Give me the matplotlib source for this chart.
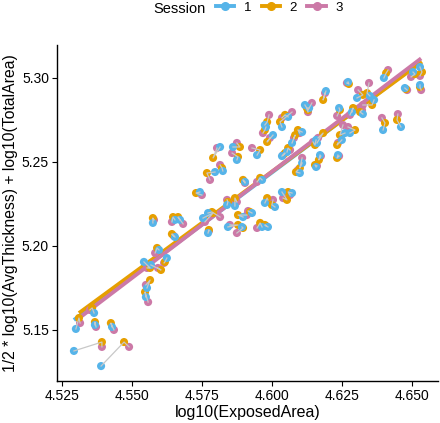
from __future__ import annotations

import matplotlib

matplotlib.use("Agg")
import matplotlib.pyplot as plt
import numpy as np
from matplotlib.lines import Line2D

SESSIONS = ["1", "2", "3"]
COLORS = ["#56B4E9", "#E69F00", "#CC79A7"]

# one entry per subject, same order in every session
S1_X = [4.6527, 4.6502, 4.6398, 4.6473, 4.6527, 4.6270, 4.6348, 4.6191, 4.6302, 4.6363,
        4.6284, 4.6238, 4.6323, 4.6395, 4.6459, 4.6116, 4.6131, 4.6159, 4.6156, 4.6259,
        4.6277, 4.6248, 4.6170, 4.6156, 4.6234, 4.6106, 4.6098, 4.6070, 4.6052, 4.6034,
        4.6106, 4.5973, 4.5977, 4.6002, 4.6056, 4.6034, 4.5945, 4.5859, 4.5873, 4.5813,
        4.5823, 4.5795, 4.5741, 4.5902, 4.5963, 4.5838, 4.5866, 4.5973, 4.6009, 4.6034,
        4.6070, 4.5895, 4.5927, 4.5841, 4.5891, 4.5963, 4.5984, 4.5770, 4.5752, 4.5770,
        4.5573, 4.5652, 4.5670, 4.5652, 4.5595, 4.5623, 4.5541, 4.5566, 4.5552, 4.5548,
        4.5363, 4.5298, 4.5366, 4.5427, 4.5291, 4.5388]
S1_Y = [5.3065, 5.3035, 5.3000, 5.2940, 5.2958, 5.2976, 5.2893, 5.2922, 5.2881, 5.2869,
        5.2797, 5.2821, 5.2785, 5.2690, 5.2708, 5.2839, 5.2821, 5.2613, 5.2631, 5.2672,
        5.2672, 5.2631, 5.2541, 5.2470, 5.2541, 5.2494, 5.2434, 5.2613, 5.2559, 5.2535,
        5.2678, 5.2720, 5.2708, 5.2660, 5.2768, 5.2708, 5.2541, 5.2589, 5.2512, 5.2589,
        5.2446, 5.2440, 5.2321, 5.2381, 5.2393, 5.2244, 5.2238, 5.2256, 5.2232, 5.2321,
        5.2315, 5.2172, 5.2196, 5.2113, 5.2113, 5.2113, 5.2113, 5.2196, 5.2166, 5.2077,
        5.2137, 5.2155, 5.2155, 5.2053, 5.1976, 5.1928, 5.1905, 5.1887, 5.1750, 5.1696,
        5.1601, 5.1506, 5.1530, 5.1518, 5.1375, 5.1285]

S2_X = [4.6534, 4.6509, 4.6406, 4.6477, 4.6527, 4.6273, 4.6338, 4.6181, 4.6323, 4.6356,
        4.6288, 4.6241, 4.6313, 4.6402, 4.6445, 4.6127, 4.6123, 4.6181, 4.6152, 4.6241,
        4.6295, 4.6231, 4.6166, 4.6152, 4.6231, 4.6098, 4.6084, 4.6081, 4.6056, 4.6045,
        4.6091, 4.5981, 4.5973, 4.5981, 4.6045, 4.6027, 4.5956, 4.5884, 4.5877, 4.5788,
        4.5820, 4.5766, 4.5727, 4.5895, 4.5956, 4.5841, 4.5866, 4.5981, 4.5998, 4.6052,
        4.6056, 4.5877, 4.5920, 4.5877, 4.5895, 4.5956, 4.5973, 4.5784, 4.5788, 4.5773,
        4.5573, 4.5645, 4.5663, 4.5641, 4.5588, 4.5616, 4.5563, 4.5602, 4.5563, 4.5545,
        4.5356, 4.5309, 4.5366, 4.5423, 4.5391, 4.5470]
S2_Y = [5.3035, 5.3023, 5.3029, 5.2934, 5.2946, 5.2964, 5.2910, 5.2869, 5.2899, 5.2839,
        5.2821, 5.2809, 5.2797, 5.2732, 5.2750, 5.2809, 5.2821, 5.2672, 5.2601, 5.2660,
        5.2690, 5.2601, 5.2512, 5.2482, 5.2524, 5.2464, 5.2440, 5.2660, 5.2583, 5.2553,
        5.2690, 5.2738, 5.2690, 5.2619, 5.2780, 5.2738, 5.2571, 5.2589, 5.2530, 5.2524,
        5.2464, 5.2434, 5.2315, 5.2393, 5.2405, 5.2262, 5.2285, 5.2285, 5.2244, 5.2274,
        5.2321, 5.2184, 5.2202, 5.2125, 5.2107, 5.2137, 5.2125, 5.2202, 5.2196, 5.2095,
        5.2166, 5.2172, 5.2172, 5.2071, 5.1988, 5.1905, 5.1869, 5.1857, 5.1797, 5.1726,
        5.1631, 5.1571, 5.1547, 5.1541, 5.1428, 5.1428]

S3_X = [4.6527, 4.6495, 4.6413, 4.6481, 4.6531, 4.6266, 4.6345, 4.6188, 4.6306, 4.6323,
        4.6277, 4.6231, 4.6320, 4.6391, 4.6448, 4.6141, 4.6127, 4.6163, 4.6145, 4.6252,
        4.6270, 4.6234, 4.6173, 4.6159, 4.6238, 4.6106, 4.6091, 4.6077, 4.6063, 4.6038,
        4.6098, 4.5988, 4.5966, 4.5991, 4.6034, 4.6070, 4.5927, 4.5873, 4.5856, 4.5802,
        4.5813, 4.5777, 4.5748, 4.5902, 4.5945, 4.5838, 4.5873, 4.5984, 4.6002, 4.6038,
        4.6063, 4.5909, 4.5913, 4.5848, 4.5873, 4.5945, 4.5977, 4.5813, 4.5759, 4.5773,
        4.5577, 4.5641, 4.5681, 4.5648, 4.5581, 4.5613, 4.5552, 4.5591, 4.5548, 4.5556,
        4.5348, 4.5313, 4.5370, 4.5434, 4.5391, 4.5488]
S3_Y = [5.3012, 5.3006, 5.3047, 5.2928, 5.2928, 5.2970, 5.2970, 5.2910, 5.2928, 5.2839,
        5.2780, 5.2774, 5.2809, 5.2762, 5.2785, 5.2851, 5.2797, 5.2643, 5.2619, 5.2720,
        5.2708, 5.2613, 5.2535, 5.2476, 5.2535, 5.2524, 5.2452, 5.2643, 5.2571, 5.2541,
        5.2672, 5.2780, 5.2672, 5.2643, 5.2762, 5.2797, 5.2583, 5.2613, 5.2553, 5.2583,
        5.2482, 5.2393, 5.2303, 5.2375, 5.2381, 5.2274, 5.2262, 5.2274, 5.2274, 5.2285,
        5.2303, 5.2184, 5.2208, 5.2125, 5.2077, 5.2107, 5.2119, 5.2172, 5.2143, 5.2089,
        5.2155, 5.2143, 5.2131, 5.2059, 5.1958, 5.1899, 5.1869, 5.1869, 5.1768, 5.1666,
        5.1619, 5.1541, 5.1518, 5.1500, 5.1399, 5.1399]

X_TICKS = [4.525, 4.550, 4.575, 4.600, 4.625, 4.650]
Y_TICKS = [5.15, 5.20, 5.25, 5.30]


def plot(output: str) -> None:
    plt.rcParams["font.family"] = ["Liberation Sans", "DejaVu Sans"]
    xs = [np.array(S1_X), np.array(S2_X), np.array(S3_X)]
    ys = [np.array(S1_Y), np.array(S2_Y), np.array(S3_Y)]

    fig = plt.figure(figsize=(4.4, 4.23), dpi=100)
    ax = fig.add_axes([56.7 / 440, 1 - 381 / 423, (438 - 56.7) / 440, (381 - 45) / 423])

    # per-session linear fits
    for x, y, color in zip(xs, ys, COLORS):
        slope, icpt = np.polyfit(x, y, 1)
        grid = np.linspace(x.min(), x.max(), 50)
        ax.plot(grid, icpt + slope * grid, color=color, lw=2.8, zorder=2,
                solid_capstyle="butt")

    for x, y, color in list(zip(xs, ys, COLORS))[::-1]:
        ax.scatter(x, y, s=34, color=color, edgecolors="none", zorder=3)

    # subject trajectories across sessions
    for i in range(len(S1_X)):
        ax.plot([xs[0][i], xs[1][i], xs[2][i]], [ys[0][i], ys[1][i], ys[2][i]],
                color="#c8c8c8", lw=0.9, zorder=4)

    ax.set_xlim(4.52295, 4.65913)
    ax.set_ylim(5.11961, 5.31961)
    ax.set_xticks(X_TICKS)
    ax.set_xticklabels([f"{t:.3f}" for t in X_TICKS])
    ax.set_yticks(Y_TICKS)
    ax.set_yticklabels([f"{t:.2f}" for t in Y_TICKS])
    ax.tick_params(length=3.5, width=0.8, labelsize=10, colors="black", pad=2)
    for side in ("top", "right"):
        ax.spines[side].set_visible(False)
    for side in ("left", "bottom"):
        ax.spines[side].set_linewidth(1.0)
    ax.set_xlabel("log10(ExposedArea)", fontsize=11.5, labelpad=2)
    ax.set_ylabel("1/2 * log10(AvgThickness) + log10(TotalArea)", fontsize=11.3, labelpad=3)

    fig.text(153 / 440, 1 - 9 / 423, "Session", fontsize=10.5, ha="left", va="center")
    handles = [Line2D([], [], color=c, lw=2.8, marker="o", markersize=5.5) for c in COLORS]
    fig.legend(handles, SESSIONS, loc="center left", bbox_to_anchor=(216 / 440, 1 - 8 / 423),
               ncol=3, frameon=False, fontsize=9.5, handlelength=1.4, handletextpad=0.7,
               columnspacing=0.8, borderpad=0, borderaxespad=0)

    fig.savefig(output, dpi=100)
    plt.close(fig)


def main() -> None:
    plot("out.png")


if __name__ == "__main__":
    main()
